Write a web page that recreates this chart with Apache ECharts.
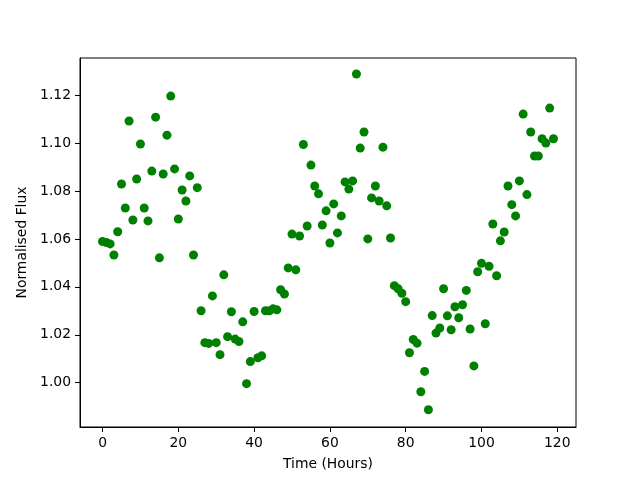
<!DOCTYPE html>
<html>
<head>
<meta charset="utf-8">
<script src="https://cdn.jsdelivr.net/npm/echarts@6/dist/echarts.min.js"></script>
<style>
  html, body { margin: 0; padding: 0; background: #fff; }
  #chart { width: 640px; height: 480px; }
</style>
</head>
<body>
<div id="chart"></div>
<script>
// time in hours, one reading per hour
const hours = [];
for (let h = 0; h < 120; h++) hours.push(h);

const flux = [
  1.0589, 1.0585, 1.0579, 1.0533, 1.0630, 1.0829, 1.0729, 1.1092, 1.0679, 1.0850,
  1.0996, 1.0729, 1.0675, 1.0883, 1.1108, 1.0521, 1.0871, 1.1033, 1.1196, 1.0892,
  1.0683, 1.0804, 1.0758, 1.0863, 1.0533, 1.0814, 1.0300, 1.0167, 1.0164, 1.0362,
  1.0167, 1.0117, 1.0450, 1.0192, 1.0296, 1.0182, 1.0172, 1.0254, 0.9996, 1.0088,
  1.0297, 1.0104, 1.0112, 1.0300, 1.0300, 1.0308, 1.0304, 1.0388, 1.0370, 1.0479,
  1.0620, 1.0471, 1.0612, 1.0994, 1.0654, 1.0908, 1.0821, 1.0788, 1.0658, 1.0717,
  1.0583, 1.0746, 1.0625, 1.0696, 1.0838, 1.0808, 1.0842, 1.1288, 1.0979, 1.1046,
  1.0600, 1.0771, 1.0821, 1.0758, 1.0983, 1.0738, 1.0604, 1.0405, 1.0392, 1.0373,
  1.0338, 1.0125, 1.0180, 1.0165, 0.9962, 1.0047, 0.9887, 1.0280, 1.0207, 1.0228,
  1.0392, 1.0279, 1.0221, 1.0317, 1.0271, 1.0325, 1.0385, 1.0224, 1.0070, 1.0463,
  1.0498, 1.0246, 1.0486, 1.0662, 1.0446, 1.0592, 1.0629, 1.0821, 1.0743, 1.0696,
  1.0842, 1.1121, 1.0785, 1.1046, 1.0946, 1.0946, 1.1018, 1.1000, 1.1146, 1.1018
];

const xTicks = [0, 20, 40, 60, 80, 100, 120];
const yTicks = [1.00, 1.02, 1.04, 1.06, 1.08, 1.10, 1.12];

const chart = echarts.init(document.getElementById('chart'));
const font = 'DejaVu Sans';
const axisText = { color: '#000', fontFamily: font, fontSize: 13.9 };

chart.setOption({
  animation: false,
  grid: {
    left: 80,
    right: 64,
    top: 58,
    bottom: 53,
    show: true,
    borderColor: '#000',
    borderWidth: 1,
    backgroundColor: '#fff'
  },
  xAxis: {
    type: 'value',
    min: -5.95,
    max: 124.95,
    name: 'Time (Hours)',
    nameLocation: 'middle',
    nameGap: 30,
    nameTextStyle: axisText,
    splitLine: { show: false },
    axisLine: { show: true, onZero: false, lineStyle: { color: '#000', width: 1 } },
    axisTick: { show: true, length: 5, lineStyle: { color: '#000' }, customValues: xTicks },
    axisLabel: Object.assign({ margin: 9, customValues: xTicks }, axisText)
  },
  yAxis: {
    type: 'value',
    min: 0.9815,
    max: 1.1355,
    name: 'Normalised Flux',
    nameLocation: 'middle',
    nameGap: 42,
    nameTextStyle: axisText,
    splitLine: { show: false },
    axisLine: { show: true, onZero: false, lineStyle: { color: '#000', width: 1 } },
    axisTick: { show: true, length: 5, lineStyle: { color: '#000' }, customValues: yTicks },
    axisLabel: Object.assign({
      margin: 9,
      customValues: yTicks,
      formatter: (v) => v.toFixed(2)
    }, axisText)
  },
  series: [{
    type: 'scatter',
    symbolSize: 9,
    itemStyle: { color: '#008000', opacity: 1 },
    data: hours.map((h, i) => [h, flux[i]])
  }]
});
</script>
</body>
</html>
